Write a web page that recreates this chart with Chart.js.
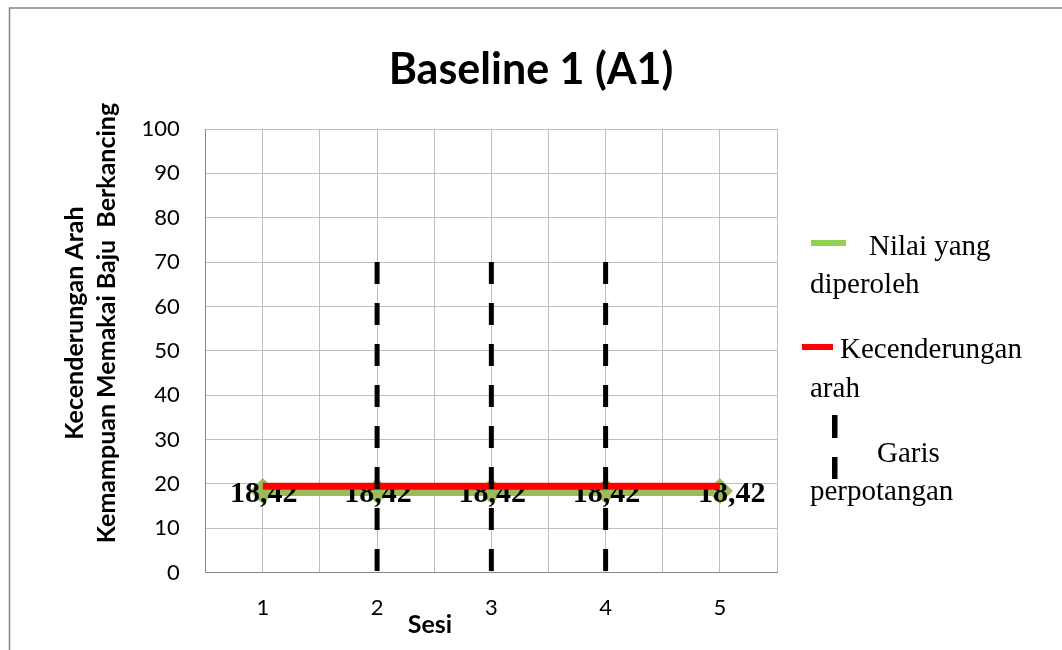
<!DOCTYPE html>
<html>
<head>
<meta charset="utf-8">
<script src="https://cdn.jsdelivr.net/npm/chart.js@4"></script>
<style>
  html, body { margin: 0; padding: 0; background: #fff; }
  canvas { display: block; }
</style>
</head>
<body>
<canvas id="c" width="1062" height="650"></canvas>
<script>
// ---- data ----
const sessions = [1, 2, 3, 4, 5];
const xTickLabels = ['1', '2', '3', '4', '5'];
const obtainedValues = [18.42, 18.42, 18.42, 18.42, 18.42];
const trendValues = [19.5, 19.5, 19.5, 19.5, 19.5];
const cutLineX = [2, 3, 4];
const cutLineTop = 70;
const yMin = 0, yMax = 100, yStep = 10;
const chartTitle = 'Baseline 1 (A1)';
const yTitleLines = ['Kecenderungan Arah', 'Kemampuan Memakai Baju  Berkancing'];
const xTitle = 'Sesi';
const legendObtained = ['Nilai yang', 'diperoleh'];
const legendTrend = ['Kecenderungan', 'arah'];
const legendCut = ['Garis', 'perpotangan'];

const GREEN = '#9BBB59';
const SANS = 'Lato, "Open Sans", sans-serif';
const SERIF = '"Liberation Serif", "DejaVu Serif", serif';

const obtainedData = sessions.map((s, i) => ({ x: s, y: obtainedValues[i] }));
const trendData = sessions.map((s, i) => ({ x: s, y: trendValues[i] }));
const cutDatasets = cutLineX.map(x => ({
  label: 'Garis perpotangan',
  data: [{ x: x, y: cutLineTop }, { x: x, y: yMin }],
  borderColor: '#000',
  borderWidth: 5,
  borderDash: [22, 19],
  pointRadius: 0,
  fill: false,
  order: 1
}));

const decor = {
  id: 'decor',
  beforeDraw(chart) {
    const ctx = chart.ctx;
    ctx.save();
    ctx.fillStyle = '#fff';
    ctx.fillRect(0, 0, chart.width, chart.height);
    ctx.strokeStyle = '#858585';
    ctx.lineWidth = 1.5;
    ctx.beginPath();
    ctx.moveTo(9.5, chart.height);
    ctx.lineTo(9.5, 8);
    ctx.lineTo(chart.width, 8);
    ctx.stroke();
    ctx.restore();
  },
  afterDatasetDraw(chart, args) {
    if (args.index !== 0) return;
    const ctx = chart.ctx;
    const meta = args.meta;
    ctx.save();
    ctx.fillStyle = '#000';
    ctx.font = 'bold 30px ' + SERIF;
    ctx.textAlign = 'center';
    ctx.textBaseline = 'alphabetic';
    meta.data.forEach((pt, i) => {
      const txt = obtainedValues[i].toFixed(2).replace('.', ',');
      const dx = i === meta.data.length - 1 ? 12 : 1;
      ctx.fillText(txt, pt.x + dx, pt.y + 11);
    });
    ctx.restore();
  },
  afterDraw(chart) {
    const ctx = chart.ctx;
    ctx.save();
    ctx.fillStyle = '#000';
    ctx.textBaseline = 'alphabetic';
    // main title
    ctx.textAlign = 'center';
    ctx.font = 'bold 43px ' + SANS;
    ctx.fillText(chartTitle, 531, 84);
    // y-axis title (two rotated lines)
    ctx.font = 'bold 25px ' + SANS;
    const yCenter = 323;
    [83, 115].forEach((bx, i) => {
      ctx.save();
      ctx.translate(bx, yCenter);
      ctx.rotate(-Math.PI / 2);
      ctx.fillText(yTitleLines[i], 0, 0);
      ctx.restore();
    });
    // x-axis title
    ctx.font = 'bold 25px ' + SANS;
    ctx.fillText(xTitle, 430, 633);

    // legend
    ctx.font = '29px ' + SERIF;
    ctx.textAlign = 'left';
    ctx.fillStyle = '#92D050';
    ctx.fillRect(811, 240, 35, 6);
    ctx.fillStyle = '#000';
    ctx.fillText(legendObtained[0], 869, 255);
    ctx.fillText(legendObtained[1], 810, 293);

    ctx.fillStyle = '#FF0000';
    ctx.fillRect(802, 344, 31, 6);
    ctx.fillStyle = '#000';
    ctx.fillText(legendTrend[0], 840, 358);
    ctx.fillText(legendTrend[1], 810, 397);

    ctx.fillRect(832, 415, 5.5, 23);
    ctx.fillRect(832, 457, 5.5, 22);
    ctx.fillText(legendCut[0], 877, 462);
    ctx.fillText(legendCut[1], 810, 500);
    ctx.restore();
  }
};

new Chart(document.getElementById('c'), {
  type: 'line',
  data: {
    datasets: [
      {
        label: 'Nilai yang diperoleh',
        data: obtainedData,
        borderColor: GREEN,
        backgroundColor: GREEN,
        borderWidth: 10,
        pointStyle: 'rectRot',
        pointRadius: 13,
        pointBackgroundColor: GREEN,
        pointBorderColor: GREEN,
        pointBorderWidth: 0,
        fill: false,
        order: 3
      },
      {
        label: 'Kecenderungan arah',
        data: trendData,
        borderColor: '#FF0000',
        borderWidth: 7,
        pointRadius: 0,
        fill: false,
        order: 2
      },
      ...cutDatasets
    ]
  },
  options: {
    responsive: false,
    devicePixelRatio: 1,
    animation: false,
    layout: { padding: { left: 0, right: 285, top: 129, bottom: 0 } },
    plugins: {
      legend: { display: false },
      tooltip: { enabled: false },
      title: { display: false }
    },
    scales: {
      x: {
        type: 'linear',
        min: 0.5,
        max: 5.5,
        afterFit(scale) { scale.height = 77.3; },
        ticks: {
          stepSize: 0.5,
          autoSkip: false,
          maxRotation: 0,
          padding: 22,
          color: '#000',
          font: { family: SANS, size: 22, lineHeight: 1.2 },
          callback: v => Number.isInteger(v) ? xTickLabels[sessions.indexOf(v)] : ''
        },
        grid: { color: '#BFBFBF', lineWidth: 1, drawTicks: false },
        border: { display: true, color: '#868686', width: 1 }
      },
      y: {
        min: yMin,
        max: yMax,
        afterFit(scale) { scale.width = 205.7; },
        ticks: {
          stepSize: yStep,
          padding: 26,
          color: '#000',
          font: { family: SANS, size: 22, lineHeight: 1.2 }
        },
        grid: { color: '#BFBFBF', lineWidth: 1, drawTicks: false },
        border: { display: true, color: '#868686', width: 1 }
      }
    }
  },
  plugins: [decor]
});
</script>
</body>
</html>
